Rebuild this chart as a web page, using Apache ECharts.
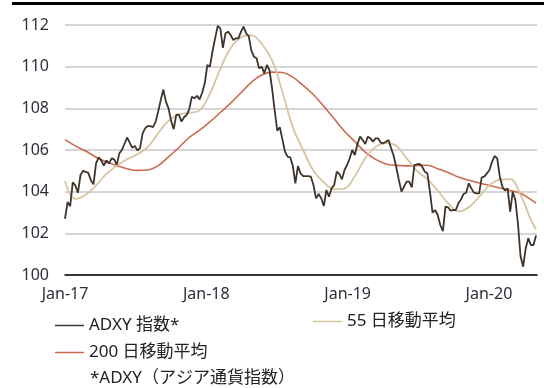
<!DOCTYPE html>
<html>
<head>
<meta charset="utf-8">
<script src="https://cdn.jsdelivr.net/npm/echarts@6/dist/echarts.min.js"></script>
<style>
html,body{margin:0;padding:0;background:#fff;}
#chart{width:544px;height:388px;}
</style>
</head>
<body>
<div id="chart"></div>
<script>
// x axis: years since Jan-17
const tickYears = [0, 1, 2, 3];
const tickLabels = ['Jan-17', 'Jan-18', 'Jan-19', 'Jan-20'];
const samplesPerYear = 54.6;   // roughly weekly samples

// ADXY index, sample 0 .. 182
const adxyValues = [
  102.7,103.5,103.3,104.45,104.3,103.95,104.8,105.0,104.95,104.9,
  104.55,104.35,105.36,105.65,105.5,105.25,105.5,105.35,105.6,105.55,
  105.3,105.84,106.0,106.3,106.6,106.35,106.1,106.2,105.97,106.1,
  106.8,107.05,107.15,107.15,107.1,107.35,107.85,108.4,108.9,108.32,
  108.0,107.4,107.0,107.7,107.7,107.36,107.57,107.68,107.95,108.56,
  108.48,108.6,108.43,108.75,109.2,110.08,110.0,110.75,111.36,111.95,
  111.84,110.9,111.6,111.68,111.52,111.28,111.36,111.36,111.68,111.92,
  111.6,111.47,110.77,110.48,110.4,109.92,110.0,109.68,110.08,109.84,
  108.96,107.92,106.93,107.09,106.51,105.92,105.68,105.65,105.25,104.4,
  105.23,104.88,104.75,104.75,104.75,104.72,104.32,103.68,103.89,103.68,
  103.31,104.08,103.76,104.16,104.32,104.96,104.85,104.59,105.04,105.28,
  105.6,106.0,105.76,106.29,106.64,106.48,106.29,106.64,106.56,106.4,
  106.56,106.56,106.35,106.32,106.4,106.48,106.08,105.71,105.17,104.56,
  104.0,104.24,104.48,104.48,104.2,105.28,105.31,105.33,105.2,104.96,
  104.88,104.0,102.99,103.12,102.88,102.4,102.1,103.28,103.25,103.09,
  103.12,103.12,103.44,103.63,103.89,103.95,104.4,104.16,103.95,103.92,
  103.92,104.69,104.72,104.88,105.04,105.44,105.71,105.6,104.72,104.24,
  104.05,104.16,103.04,104.0,103.6,102.48,100.9,100.4,101.28,101.76,
  101.44,101.44,101.9
];

// moving averages, every 4th sample
const maSamples = [0,4,8,12,16,20,24,28,32,36,40,44,48,52,56,60,64,68,72,76,80,84,88,92,96,100,104,108,112,116,120,124,128,132,136,140,144,148,152,156,160,164,168,172,176,180,182];
const ma55Values = [
  104.5,103.65,103.85,104.3,104.85,105.25,105.55,105.8,106.15,106.8,
  107.4,107.7,107.78,107.9,108.7,109.9,110.9,111.4,111.5,111.1,
  110.3,108.8,107.1,106.0,105.0,104.45,104.12,104.15,104.75,105.6,
  106.15,106.33,106.2,105.6,105.0,104.6,104.05,103.45,103.05,103.25,
  103.75,104.3,104.58,104.6,103.85,102.65,102.2
];
const ma200Values = [
  106.5,106.2,105.95,105.65,105.42,105.25,105.1,105.02,105.04,105.25,
  105.67,106.12,106.6,106.95,107.35,107.8,108.25,108.75,109.25,109.6,
  109.74,109.72,109.5,109.1,108.65,108.1,107.5,106.9,106.4,105.9,
  105.55,105.33,105.26,105.24,105.26,105.27,105.1,104.92,104.7,104.55,
  104.42,104.3,104.18,104.06,103.92,103.62,103.45
];

const seriesNames = ['ADXY 指数*', '55 日移動平均', '200 日移動平均'];
const colors = ['#3f342b', '#d8c4a0', '#cc6a50'];
const footnote = '*ADXY（アジア通貨指数）';

const font = '"Noto Sans", "Noto Sans CJK JP", sans-serif';
const chart = echarts.init(document.getElementById('chart'), null, {renderer: 'canvas'});

const legendBase = {
  icon: 'rect', itemWidth: 29, itemHeight: 1.5, padding: 0,
  textStyle: {fontFamily: font, fontSize: 17, color: '#222'}
};

chart.setOption({
  animation: false,
  backgroundColor: '#fff',
  grid: {left: 65, right: 7, top: 25, bottom: 113, outerBoundsMode: 'none'},
  xAxis: {
    type: 'value', min: 0, max: 3.34, interval: 1,
    axisLine: {show: true, lineStyle: {color: '#000', width: 1.5}},
    axisTick: {show: false},
    splitLine: {show: false},
    axisLabel: {
      show: true, margin: 11, showMaxLabel: false,
      fontFamily: font, fontSize: 16, color: '#2b2f3a',
      formatter: function (v) { const i = tickYears.indexOf(v); return i >= 0 ? tickLabels[i] : ''; }
    }
  },
  yAxis: {
    type: 'value', min: 100, max: 112, interval: 2,
    axisLine: {show: false}, axisTick: {show: false},
    splitLine: {show: true, lineStyle: {color: '#c9c9c9', width: 1.5}},
    axisLabel: {margin: 16, fontFamily: font, fontSize: 16, color: '#2b2f3a'}
  },
  legend: [
    Object.assign({data: [seriesNames[0]], left: 55, top: 317}, legendBase),
    Object.assign({data: [seriesNames[1]], left: 313, top: 313}, legendBase),
    Object.assign({data: [seriesNames[2]], left: 55, top: 344}, legendBase)
  ],
  graphic: [
    {type: 'rect', left: 12, top: 2, shape: {width: 532, height: 3}, style: {fill: '#000'}},
    {type: 'text', left: 90, top: 370, style: {text: footnote, font: '17px ' + font, fill: '#222'}}
  ],
  series: [
    {
      name: seriesNames[2], type: 'line', showSymbol: false, smooth: 0.4,
      data: maSamples.map((s, i) => [s / samplesPerYear, ma200Values[i]]),
      lineStyle: {color: colors[2], width: 1.6}, itemStyle: {color: colors[2]}
    },
    {
      name: seriesNames[1], type: 'line', showSymbol: false, smooth: 0.4,
      data: maSamples.map((s, i) => [s / samplesPerYear, ma55Values[i]]),
      lineStyle: {color: colors[1], width: 1.8}, itemStyle: {color: colors[1]}
    },
    {
      name: seriesNames[0], type: 'line', showSymbol: false,
      data: adxyValues.map((v, i) => [i / samplesPerYear, v]),
      lineStyle: {color: colors[0], width: 1.8}, itemStyle: {color: colors[0]}
    }
  ]
});
</script>
</body>
</html>
